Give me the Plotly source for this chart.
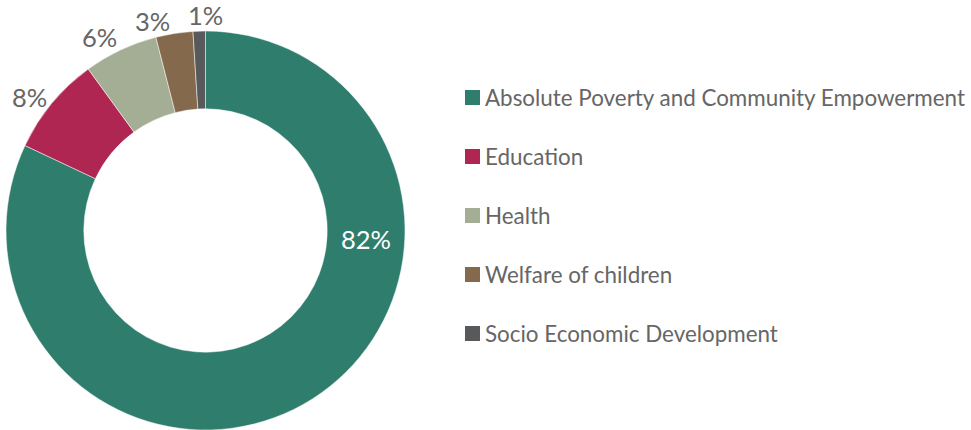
import math
import plotly.graph_objects as go

# Share of funding by programme area (percent)
categories = [
    "Absolute Poverty and Community Empowerment",
    "Education",
    "Health",
    "Welfare of children",
    "Socio Economic Development",
]
shares = [82, 8, 6, 3, 1]
colors = ["#2F7E6D", "#AE2651", "#A3AE94", "#84694D", "#58595B"]

W, H = 971, 430
FONT = "Lato"
GREY = "#666666"

# donut geometry in pixels
cx, cy, r = 205.5, 230.5, 199.5
hole = 0.61

fig = go.Figure(
    go.Pie(
        labels=categories,
        values=shares,
        textinfo="none",
        sort=False,
        direction="clockwise",
        rotation=0,
        hole=hole,
        marker=dict(colors=colors, line=dict(color="white", width=0.5)),
        domain=dict(
            x=[(cx - r) / W, (cx + r) / W],
            y=[(H - cy - r) / H, (H - cy + r) / H],
        ),
        showlegend=False,
        hoverinfo="label+percent",
    )
)


def to_paper(px, py):
    return px / W, (H - py) / H


# percentage labels: the big slice is labelled inside the ring,
# the small ones just outside it, spread apart where they crowd
total = sum(shares)
label_nudge = [(0, 0), (-6.5, 7), (-12, 6), (-18.5, 8), (6.5, 4)]
start = 0.0
for i, v in enumerate(shares):
    mid = math.radians((start + v / 2) / total * 360)
    start += v
    if i == 0:
        ang = math.radians(93)
        rr = r * (1 + hole) / 2
        col = "white"
    else:
        ang = mid
        rr = r + 20.5
        col = GREY
    dx, dy = label_nudge[i]
    px = cx + rr * math.sin(ang) + dx
    py = cy - rr * math.cos(ang) + dy
    x, y = to_paper(px, py)
    fig.add_annotation(
        x=x, y=y, xref="paper", yref="paper",
        text=f"{v}%", showarrow=False,
        font=dict(family=FONT, size=25.5, color=col),
        xanchor="center", yanchor="middle",
    )

# legend: coloured squares with category names
lx, ly0, step, sq = 465, 97.5, 59, 15
for i, (name, col) in enumerate(zip(categories, colors)):
    yc = ly0 + i * step
    x0, y0 = to_paper(lx, yc + sq / 2)
    x1, y1 = to_paper(lx + sq, yc - sq / 2)
    fig.add_shape(
        type="rect", xref="paper", yref="paper",
        x0=x0, x1=x1, y0=y0, y1=y1,
        fillcolor=col, line=dict(width=0),
    )
    tx, ty = to_paper(lx + sq + 3, yc)
    fig.add_annotation(
        x=tx, y=ty, xref="paper", yref="paper",
        text=name, showarrow=False,
        xanchor="left", yanchor="middle",
        font=dict(family=FONT, size=22.4, color=GREY),
    )

fig.update_layout(
    width=W, height=H,
    margin=dict(l=0, r=0, t=0, b=0, autoexpand=False),
    paper_bgcolor="white",
    plot_bgcolor="white",
)

fig.write_html("out.html")
